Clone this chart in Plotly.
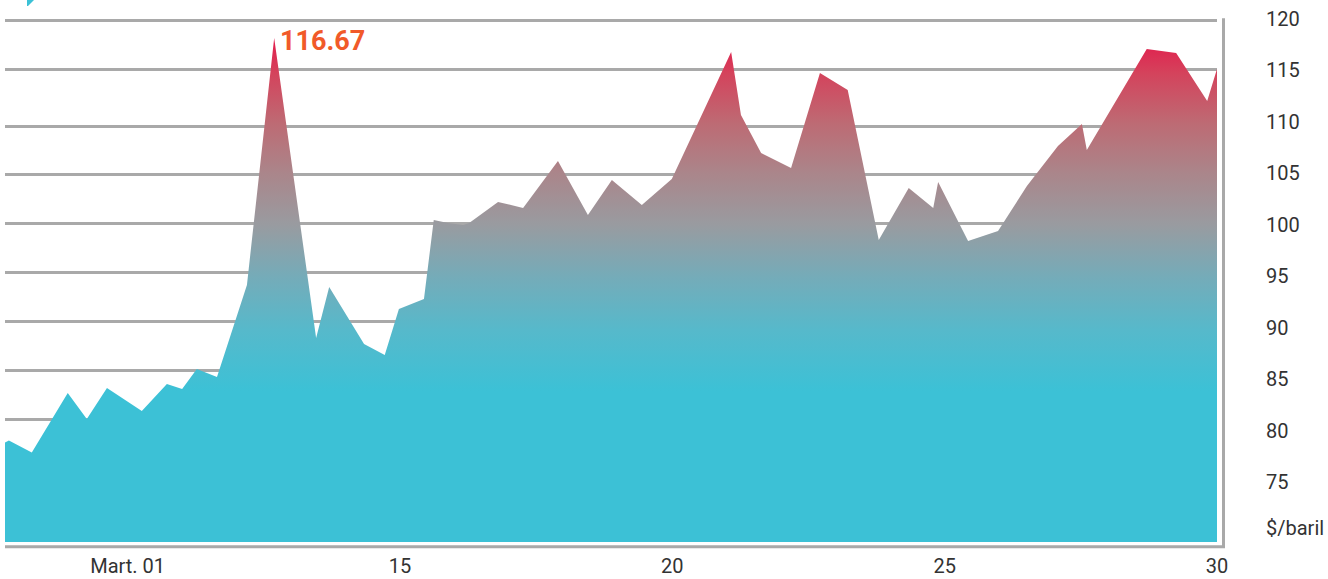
import plotly.graph_objects as go

# ---- data ----
days = [7.748, 7.82, 8.24, 8.90, 9.25, 9.62, 10.26, 10.72, 11.00, 11.27, 11.64,
        12.19, 12.69, 13.46, 13.70, 14.34, 14.72, 14.98, 15.44, 15.62, 15.88,
        16.16, 16.27, 16.80, 17.26, 17.90, 18.45, 18.89, 19.44, 19.99, 21.08,
        21.26, 21.63, 22.18, 22.71, 23.22, 23.79, 24.34, 24.79, 24.88, 25.43,
        25.98, 26.51, 27.08, 27.52, 27.61, 28.71, 29.25, 29.82, 30.00]
price = [78.84, 79.04, 77.87, 83.65, 81.13, 84.14, 81.90, 84.53, 84.04, 85.99, 85.21,
         94.15, 118.15, 89.00, 93.96, 88.42, 87.35, 91.82, 92.79, 100.47, 100.17,
         99.98, 100.17, 102.22, 101.63, 106.20, 100.95, 104.35, 101.92, 104.45, 116.79,
         110.67, 106.98, 105.52, 114.75, 113.10, 98.52, 103.58, 101.63, 104.16, 98.43,
         99.40, 103.77, 107.66, 109.80, 107.27, 117.08, 116.70, 112.03, 115.14]

x_tick_vals = [10, 15, 20, 25, 30]
x_tick_text = ["Mart. 01", "15", "20", "25", "30"]
y_tick_vals = [120, 115, 110, 105, 100, 95, 90, 85, 80, 75, 70.57]
y_tick_text = ["120", "115", "110", "105", "100", "95", "90", "85", "80", "75", "$/baril"]
grid_vals = [119.83, 115.07, 109.60, 104.87, 100.11, 95.35, 90.58, 85.86, 81.06, 76.30, 71.53]
peak_label = "116.67"

Y_RANGE = [69.17, 120.875]
X_RANGE = [7.748, 30.0]
FONT = "Roboto, Noto Sans, sans-serif"

fig = go.Figure()
fig.add_trace(go.Scatter(
    x=days, y=price, mode="lines", line=dict(width=0, color="rgba(0,0,0,0)"),
    fill="tozeroy",
    fillgradient=dict(
        type="vertical", start=Y_RANGE[0], stop=max(price),
        colorscale=[[0.0, "#3CC1D6"], [0.30, "#3CC1D6"], [0.42, "#56B9CB"],
                    [0.53, "#76ABB8"], [0.63, "#999BA0"], [0.73, "#AA868B"],
                    [0.83, "#BD6B74"], [0.93, "#D4435C"], [1.0, "#E31B4C"]]),
    hoverinfo="skip", showlegend=False))
fig.add_trace(go.Scatter(x=[], y=[], yaxis="y2", showlegend=False, hoverinfo="skip"))

ipk = max(range(len(price)), key=lambda i: price[i])
fig.add_annotation(x=days[ipk], y=price[ipk], text="<b>%s</b>" % peak_label,
                   showarrow=False, xanchor="left", yanchor="middle",
                   xshift=4, yshift=-3,
                   font=dict(family=FONT, size=27, color="#F15A29"))

LC = "#A9A9A9"
shapes = [
    dict(type="line", xref="paper", yref="paper", x0=0, x1=1.0066, y0=-0.0088, y1=-0.0088,
         line=dict(color=LC, width=3)),
    dict(type="line", xref="paper", yref="paper", x0=1.00536, x1=1.00536, y0=-0.0088, y1=0.9844,
         line=dict(color=LC, width=3)),
    dict(type="path", xref="paper", yref="paper",
         path="M 0.01815,1.0188 L 0.02393,1.0188 L 0.01898,1.0075 L 0.01815,1.0075 Z",
         fillcolor="#3CC1D6", line=dict(width=0)),
]

fig.update_layout(
    width=1328, height=579,
    margin=dict(l=5, r=111, t=10, b=37, autoexpand=False),
    paper_bgcolor="white", plot_bgcolor="white",
    shapes=shapes,
    xaxis=dict(range=X_RANGE, tickvals=x_tick_vals, ticktext=x_tick_text,
               showgrid=False, zeroline=False, showline=False, ticks="",
               ticklabelstandoff=10, automargin=False,
               tickfont=dict(family=FONT, size=20, color="#333333")),
    yaxis=dict(range=Y_RANGE, tickvals=grid_vals, showticklabels=False,
               showgrid=True, gridcolor=LC, gridwidth=3, zeroline=False,
               showline=False, ticks="", automargin=False),
    yaxis2=dict(range=Y_RANGE, overlaying="y", side="right", tickvals=y_tick_vals,
                ticktext=y_tick_text, showgrid=False, zeroline=False, showline=False,
                ticks="", ticklabelstandoff=48, automargin=False,
                tickfont=dict(family=FONT, size=20, color="#333333")),
)

fig.write_html("out.html")
